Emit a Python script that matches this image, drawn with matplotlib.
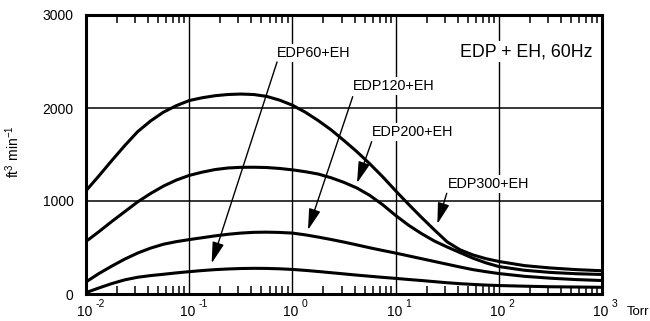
import numpy as np
import matplotlib
matplotlib.use("Agg")
import matplotlib.pyplot as plt

plt.rcParams['font.family'] = ['Liberation Sans', 'DejaVu Sans']
plt.rcParams['mathtext.fontset'] = 'custom'
plt.rcParams['mathtext.rm'] = 'Liberation Sans'
plt.rcParams['mathtext.it'] = 'Liberation Sans:italic'

# ---- data ----
log_p = [-2, -1.875, -1.75, -1.625, -1.5, -1.375, -1.25, -1.125,
         -1, -0.875, -0.75, -0.625, -0.5, -0.375, -0.25, -0.125,
         0, 0.125, 0.25, 0.375, 0.5, 0.625, 0.75, 0.875,
         1, 1.125, 1.25, 1.375, 1.5, 1.625, 1.75, 1.875,
         2, 2.25, 2.5, 2.75, 3]
pressure = [10.0 ** e for e in log_p]
edp300 = [1110, 1270, 1435, 1595, 1745, 1860, 1955, 2025,
          2080, 2110, 2132, 2145, 2150, 2145, 2125, 2085,
          2030, 1955, 1865, 1765, 1650, 1530, 1400, 1260,
          1110, 965, 825, 690, 560, 475, 420, 380,
          350, 305, 280, 262, 250]
edp200 = [565, 670, 780, 885, 990, 1080, 1160, 1225,
          1275, 1310, 1338, 1355, 1362, 1363, 1360, 1350,
          1335, 1315, 1290, 1250, 1200, 1140, 1060, 960,
          845, 740, 650, 570, 505, 445, 385, 335,
          295, 255, 232, 218, 210]
edp120 = [130, 220, 300, 375, 440, 493, 535, 563,
          585, 605, 625, 642, 655, 663, 665, 662,
          655, 636, 612, 586, 558, 528, 497, 468,
          440, 410, 380, 350, 320, 290, 262, 240,
          220, 190, 170, 155, 145]
edp60 = [15, 65, 112, 152, 180, 198, 212, 227,
         240, 252, 262, 269, 274, 276, 275, 271,
         264, 254, 242, 229, 216, 203, 191, 179,
         168, 156, 145, 133, 121, 111, 103, 96,
         91, 84, 78, 75, 72]
series = [edp300, edp200, edp120, edp60]

labels = ["EDP60+EH", "EDP120+EH", "EDP200+EH", "EDP300+EH"]
label_pos = [(0.71, 2595), (3.84, 2237), (5.94, 1745), (32.4, 1183)]
arrow_start = [(0.71, 2495), (3.84, 2122), (5.86, 1638), (31.3, 1083)]
arrow_tip = [(0.165, 330), (1.415, 688), (4.23, 1194), (25.4, 753)]
title = "EDP + EH, 60Hz"
title_pos = (42.1, 2605)

decades = [-2, -1, 0, 1, 2, 3]
yticks = [0, 1000, 2000, 3000]

fig = plt.figure(figsize=(6.5, 3.21), dpi=100)
ax = fig.add_axes([86/650, 1-294/321, (602-86)/650, (294-15)/321])
ax.set_xscale('log')
ax.set_xlim(1e-2, 1e3)
ax.set_ylim(0, 3000)

for s in series:
    ax.plot(pressure, s, color='black', lw=2.2, solid_capstyle='round',
            solid_joinstyle='round', zorder=2)

# grid
for d in decades[1:-1]:
    ax.axvline(10.0**d, color='black', lw=1.0, zorder=1)
for yv in yticks[1:-1]:
    ax.axhline(yv, color='black', lw=1.1, zorder=1)

for sp in ax.spines.values():
    sp.set_linewidth(2.2)

ax.set_yticks(yticks)
ax.set_yticklabels([str(v) for v in yticks], fontsize=10)
ax.tick_params(axis='y', length=0, pad=9)
ax.set_xticks([10.0**d for d in decades])
ax.set_xticklabels([])
ax.tick_params(axis='x', which='major', length=0)
ax.tick_params(axis='x', which='minor', direction='in', length=6, width=1.1,
               top=True, bottom=True)

xt = ax.get_xaxis_transform()
for d in decades:
    ax.annotate("10", xy=(10.0**d, 0), xycoords=xt, xytext=(-1, -13),
                textcoords='offset points', ha='center', va='center', fontsize=10)
    ax.annotate(str(d), xy=(10.0**d, 0), xycoords=xt, xytext=(7, -7),
                textcoords='offset points', ha='left', va='center', fontsize=7.5)
ax.annotate("Torr", xy=(1e3, 0), xycoords=xt, xytext=(18, -13),
            textcoords='offset points', ha='left', va='center', fontsize=9.5)

ax.text(-0.1415, 0.51, r"ft$^{3}$ min$^{-1}$", transform=ax.transAxes,
        rotation=90, ha='center', va='center', fontsize=10)

for lab, pos in zip(labels, label_pos):
    ax.text(pos[0], pos[1], lab, ha='left', va='center', fontsize=10.4, zorder=3,
            bbox=dict(fc='white', ec='none', pad=1.5))
for st, tp in zip(arrow_start, arrow_tip):
    ax.annotate("", xy=tp, xytext=st,
                arrowprops=dict(arrowstyle='-|>,head_length=1.3,head_width=0.36',
                                mutation_scale=10, lw=1.0, color='black',
                                shrinkA=0, shrinkB=0), zorder=4)
ax.text(title_pos[0], title_pos[1], title, ha='left', va='center', fontsize=12.8,
        zorder=3, bbox=dict(fc='white', ec='none', pad=1.5))

fig.savefig("out.png", dpi=100)
